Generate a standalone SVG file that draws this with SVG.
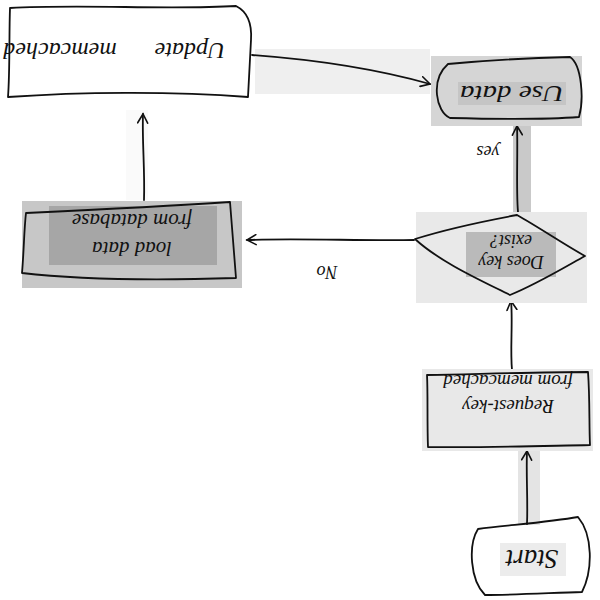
<svg xmlns="http://www.w3.org/2000/svg" width="600" height="600" viewBox="0 0 600 600">
<style>
.ln{fill:none;stroke:#111;stroke-width:1.8;stroke-linecap:round;stroke-linejoin:round}
.tx{font-family:"Liberation Serif",serif;font-style:italic;fill:#111;text-anchor:middle}
</style>
<defs>
<marker id="ah" viewBox="0 0 12 12" refX="10" refY="6" markerWidth="12" markerHeight="12" markerUnits="userSpaceOnUse" orient="auto">
<path d="M1,1 L10,6 L1,11" fill="none" stroke="#111" stroke-width="1.6" stroke-linecap="round"/>
</marker>
</defs>
<rect width="600" height="600" fill="#fff"/>
<g id="highlights">
<rect x="255" y="49" width="175" height="45" fill="#efefef"/>
<rect x="513" y="125" width="18" height="90" fill="#c9c9c9"/>
<rect x="518" y="450" width="22" height="75" fill="#e4e4e4"/>
<rect x="126" y="110" width="22" height="90" fill="#fafafa"/>
</g>
<g id="connectors">
<path class="ln" d="M252,55 C320,60 380,70 430,84" marker-end="url(#ah)"/>
<path class="ln" d="M518,212 C516,190 518,150 517,126" marker-end="url(#ah)"/>
<path class="ln" d="M414,240 C360,241 300,238 247,240" marker-end="url(#ah)"/>
<path class="ln" d="M144,200 C145,170 142,140 143,114" marker-end="url(#ah)"/>
<path class="ln" d="M512,370 C510,350 513,320 511,301" marker-end="url(#ah)"/>
<path class="ln" d="M527,524 C528,500 526,475 527,451" marker-end="url(#ah)"/>
<text class="tx" font-size="18" transform="rotate(180 488 152)" x="488" y="158">yes</text>
<text class="tx" font-size="18" transform="rotate(180 327 272)" x="327" y="278">No</text>
</g>
<g id="update">
<path class="ln" d="M10,8 C80,4 170,10 236,6 C248,12 252,25 251,40 C250,60 249,80 248,97 C170,91 80,92 8,97 C10,70 9,35 10,8 Z"/>
<text class="tx" font-size="24" transform="rotate(180 117 50)" y="57"><tspan x="47">Update</tspan> <tspan x="174">memcached</tspan></text>
</g>
<g id="usedata">
<rect x="431" y="56" width="151" height="70" fill="#d5d5d5"/>
<rect x="458" y="82" width="108" height="23" fill="#c5c5c5"/>
<path class="ln" d="M448,64 C490,60 530,58 570,57 C582,65 584,100 579,117 C540,120 490,119 450,118 C436,112 430,80 448,64 Z"/>
<text class="tx" font-size="23" transform="rotate(180 512 93)" x="512" y="100" textLength="104" lengthAdjust="spacingAndGlyphs">Use data</text>
</g>
<g id="decision">
<rect x="416" y="212" width="171" height="91" fill="#e9e9e9"/>
<rect x="466" y="232" width="90" height="45" fill="#bababa"/>
<path class="ln" d="M415,239 C450,228 490,220 517,215 C540,228 565,245 585,256 C560,270 535,285 510,295 C480,280 440,262 415,239 Z"/>
<text class="tx" font-size="18" transform="rotate(180 511 254)" x="511" y="252">
<tspan x="511">Does key</tspan><tspan x="511" dy="21">exist?</tspan></text>
</g>
<g id="loaddata">
<rect x="22" y="201" width="220" height="87" fill="#c7c7c7"/>
<rect x="49" y="206" width="168" height="59" fill="#a6a6a6"/>
<path class="ln" d="M26,213 C90,210 170,206 230,202 C232,230 234,255 236,278 C170,280 90,281 22,273 C24,250 24,230 26,213 Z"/>
<text class="tx" font-size="21" transform="rotate(180 132 237)" x="132" y="232">
<tspan x="132">load data</tspan><tspan x="132" dy="28">from database</tspan></text>
</g>
<g id="request">
<rect x="422" y="369" width="171" height="82" fill="#e8e8e8"/>
<path class="ln" d="M427,375 C480,374 540,372 588,372 C590,400 589,425 590,445 C540,446 480,448 428,447 C427,420 428,395 427,375 Z" fill="#dedede"/>
<text class="tx" font-size="19" transform="rotate(180 508 398)" x="508" y="396">
<tspan x="508">Request-key</tspan><tspan x="508" dy="25">from memcached</tspan></text>
</g>
<g id="start">
<rect x="500" y="543" width="66" height="33" fill="#ececec"/>
<path class="ln" d="M478,529 C510,525 550,522 578,517 C593,535 593,570 582,592 C550,593 510,595 485,595 C470,580 468,545 478,529 Z"/>
<text class="tx" font-size="27" transform="rotate(180 532 559)" x="532" y="568">Start</text>
</g>
</svg>
